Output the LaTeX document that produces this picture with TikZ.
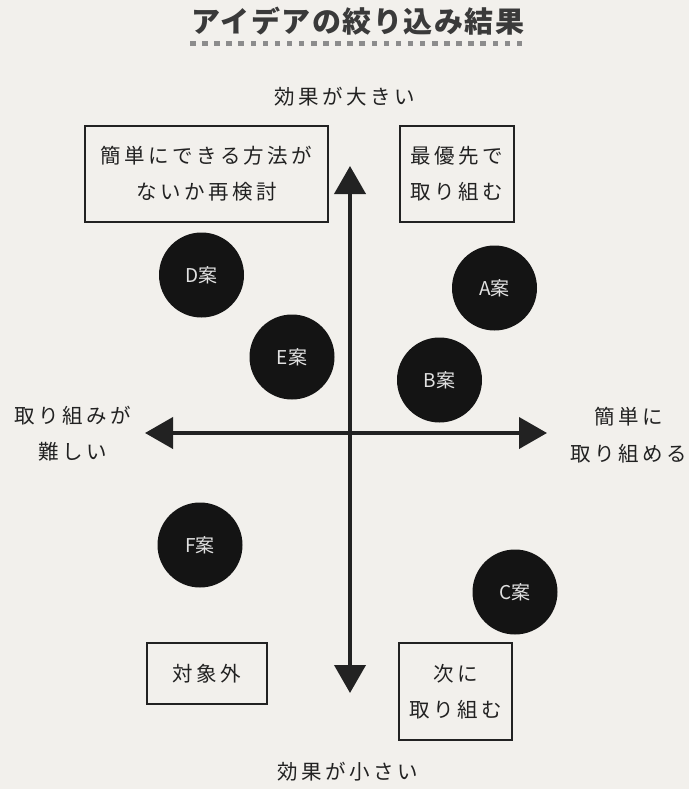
\documentclass[tikz,border=0pt]{standalone}
\usepackage{fontspec}
\newfontfamily\jp{Noto Sans CJK JP}
\newfontfamily\jpsp[LetterSpace=17]{Noto Sans CJK JP}
\newfontfamily\jptitle[LetterSpace=5]{Noto Sans CJK JP}
\usetikzlibrary{arrows.meta}
\definecolor{bg}{HTML}{F2F0EC}
\definecolor{ink}{HTML}{222222}
\definecolor{titlegray}{HTML}{3A3A3A}
\definecolor{dotgray}{HTML}{8C8C8C}
\definecolor{disk}{HTML}{141414}
\definecolor{disktext}{HTML}{E2E2E2}
\begin{document}
\begin{tikzpicture}[x=1pt,y=-1pt,
  lbl/.style={font=\jpsp\fontsize{20.5}{36.5}\selectfont, text=ink, align=center, inner sep=0pt},
  quad/.style={draw=ink, line width=1.8pt, inner sep=0pt, font=\jpsp\fontsize{20.5}{36}\selectfont, text=ink, align=center},
  idea/.style={circle, fill=disk, minimum size=85pt, inner sep=0pt, text=disktext, font=\jp\fontsize{19}{19}\selectfont},
  axis/.style={draw=ink, line width=4pt, {Triangle[width=31pt,length=28pt]}-{Triangle[width=31pt,length=28pt]}}
]
\useasboundingbox (0,0) rectangle (689,789);
\fill[bg] (0,0) rectangle (689,789);

% title
\node[font=\jptitle\bfseries\fontsize{29}{29}\selectfont, text=titlegray, inner sep=0pt] (title) at (358,21) {アイデアの絞り込み結果};
\foreach \i in {0,...,27} \fill[dotgray] (190+\i*12.1,41) rectangle ++(5.5,5.5);

% axis labels
\node[lbl] (top) at (345,97) {効果が大きい};
\node[lbl] (bottom) at (348,772) {効果が小さい};
\node[lbl] (left) at (73,433.5) {取り組みが\\難しい};
\node[lbl] (right) at (629,435) {簡単に\\取り組める};

% axes
\coordinate (ytop) at (350,166);
\coordinate (ybot) at (350,693);
\coordinate (xl) at (145,433);
\coordinate (xr) at (547,433);
\draw[axis] (ytop) -- (ybot);
\draw[axis] (xl) -- (xr);

% quadrant boxes
\node[quad, minimum width=243pt, minimum height=96pt] (q2) at (206.5,174) {簡単にできる方法が\\ないか再検討};
\node[quad, minimum width=114pt, minimum height=96pt] (q1) at (457,174) {最優先で\\取り組む};
\node[quad, minimum width=120pt, minimum height=61pt] (q3) at (207,673.5) {対象外};
\node[quad, minimum width=113pt, minimum height=97pt] (q4) at (455.5,691.5) {次に\\取り組む};

% ideas
\node[idea] (A) at (494.5,288) {A案};
\node[idea] (B) at (439.5,380) {B案};
\node[idea] (C) at (515,592) {C案};
\node[idea] (D) at (201.5,275) {D案};
\node[idea] (E) at (292,357) {E案};
\node[idea] (F) at (200,545) {F案};
\end{tikzpicture}
\end{document}
